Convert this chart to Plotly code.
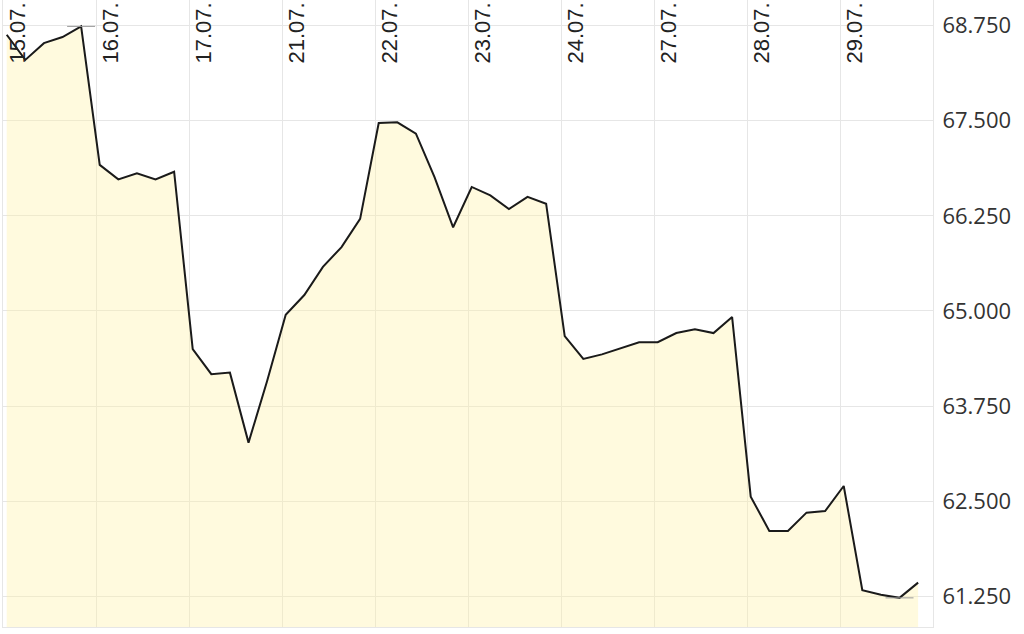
import plotly.graph_objects as go

# trading days shown on the axis
days = ["15.07.", "16.07.", "17.07.", "21.07.", "22.07.",
        "23.07.", "24.07.", "27.07.", "28.07.", "29.07."]

# five quotes per trading day
prices = [
    68.63, 68.30, 68.52, 68.60, 68.74,   # 15.07.
    66.92, 66.73, 66.81, 66.73, 66.83,   # 16.07.
    64.50, 64.17, 64.19, 63.27, 64.08,   # 17.07.
    64.95, 65.21, 65.58, 65.84, 66.21,   # 21.07.
    67.47, 67.48, 67.33, 66.76, 66.10,   # 22.07.
    66.63, 66.52, 66.34, 66.50, 66.41,   # 23.07.
    64.67, 64.37, 64.43, 64.51, 64.59,   # 24.07.
    64.59, 64.71, 64.76, 64.71, 64.92,   # 27.07.
    62.56, 62.11, 62.11, 62.35, 62.37,   # 28.07.
    62.70, 61.33, 61.27, 61.23, 61.43,   # 29.07.
]

y_ticks = [61.25, 62.5, 63.75, 65.0, 66.25, 67.5, 68.75]

per_day = 5
x = list(range(len(prices)))
day_pos = [i * per_day - 0.2 for i in range(len(days))]

hi = prices.index(max(prices))
lo = prices.index(min(prices))

fig = go.Figure()
fig.add_trace(go.Scatter(
    x=x, y=prices, mode="lines",
    line=dict(color="#1a1a1a", width=2),
    fill="tozeroy", fillcolor="rgba(255,242,160,0.35)",
    hoverinfo="y",
))
# high / low markers
fig.add_trace(go.Scatter(
    x=[hi, lo], y=[prices[hi], prices[lo]], mode="markers",
    marker=dict(symbol="line-ew", size=20, line=dict(color="#9a9a9a", width=1)),
    hoverinfo="skip",
))

fig.update_layout(
    width=1024, height=634,
    margin=dict(l=3, r=91, t=0, b=7),
    paper_bgcolor="white", plot_bgcolor="white",
    showlegend=False,
)
# labels sit outside the top edge, pulled back down into the plot
fig.update_xaxes(
    range=[-0.2, len(prices) - 0.2],
    tickvals=day_pos, ticktext=days,
    side="top", tickangle=-90,
    ticklabelshift=15, ticklabelstandoff=-69, ticklabeloverflow="allow",
    ticks="",
    tickfont=dict(family="Liberation Sans, Arial", size=22, color="#222"),
    showgrid=True, gridcolor="#e6e6e6", gridwidth=1,
    showline=True, linecolor="#e6e6e6", mirror=True,
    zeroline=False,
)
fig.update_yaxes(
    range=[60.847, 69.087],
    tickvals=y_ticks, ticktext=[f"{v:.3f}" for v in y_ticks],
    side="right", ticks="", ticklabelstandoff=4, ticklabeloverflow="allow",
    tickfont=dict(family="Open Sans", size=22, color="#333"),
    showgrid=True, gridcolor="#e6e6e6", gridwidth=1,
    showline=True, linecolor="#e6e6e6", mirror=True,
    zeroline=False,
)

# drop the default page margin so the figure sits at the window corner
fig.write_html("out.html", config={"displayModeBar": False},
               post_script="document.body.style.margin='0';")
